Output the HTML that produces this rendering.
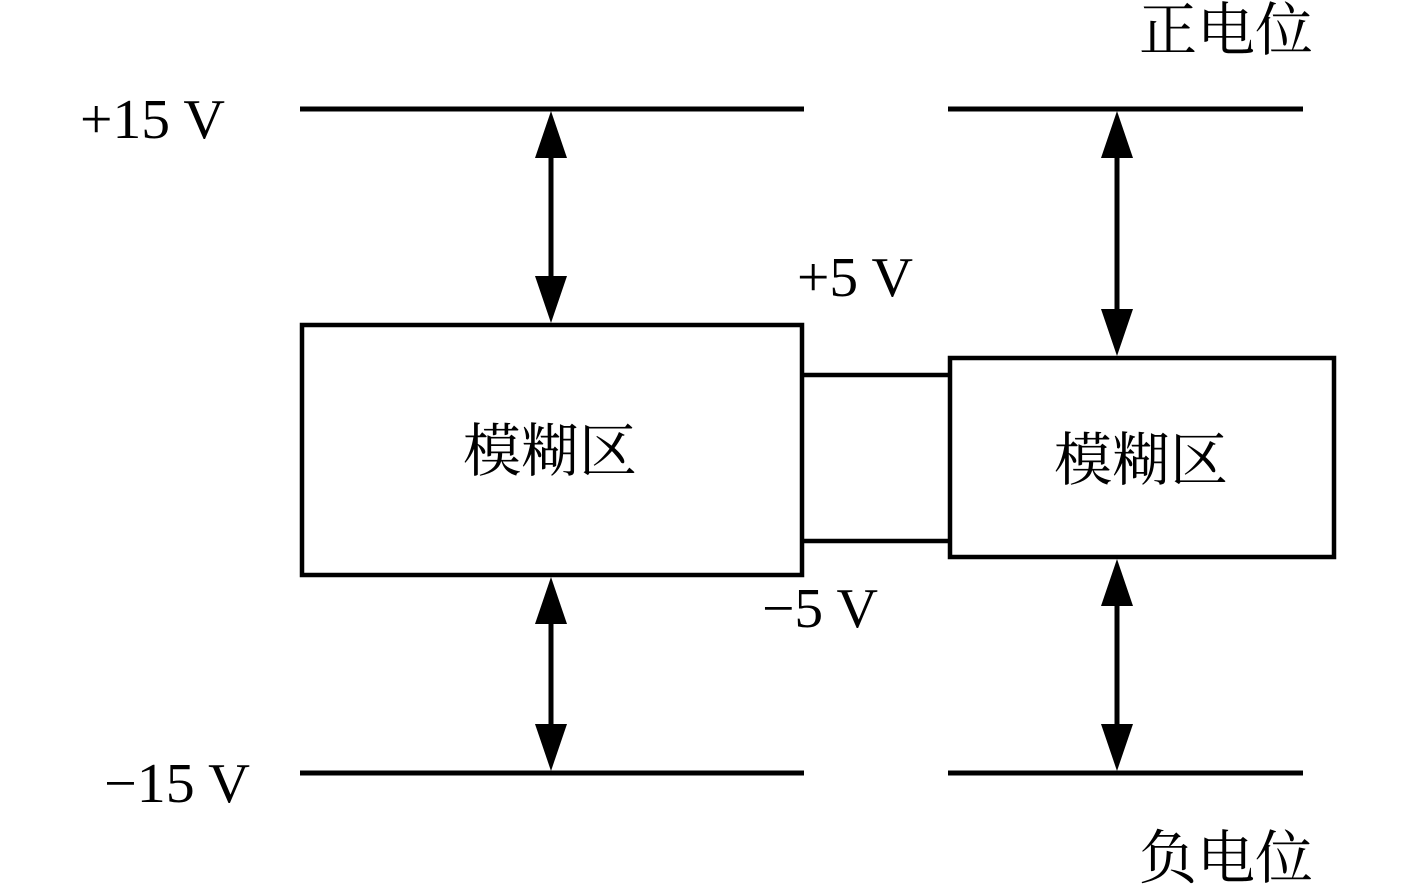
<!DOCTYPE html>
<html><head><meta charset="utf-8"><style>
html,body{margin:0;padding:0;background:#fff;}
svg{display:block;}
.t{font-family:"Liberation Serif",serif;font-size:56px;fill:#000;}
.c{font-family:"Liberation Serif","Noto Serif CJK SC","Noto Sans CJK SC",serif;font-size:58px;fill:#000;}
</style></head><body>
<svg width="1417" height="889" viewBox="0 0 1417 889" xmlns="http://www.w3.org/2000/svg">
<g stroke="#000" stroke-width="5" fill="none">
<line x1="300" y1="109" x2="804" y2="109"/>
<line x1="948" y1="109" x2="1303" y2="109"/>
<line x1="300" y1="773" x2="804" y2="773"/>
<line x1="948" y1="773" x2="1303" y2="773"/>
<rect x="302" y="325" width="500" height="250" stroke-width="4.5"/>
<rect x="950" y="358" width="384" height="199" stroke-width="4.5"/>
<line x1="802" y1="375" x2="950" y2="375" stroke-width="4.5"/>
<line x1="802" y1="541" x2="950" y2="541" stroke-width="4.5"/>
<line x1="551" y1="150" x2="551" y2="285"/>
<line x1="551" y1="615" x2="551" y2="735"/>
<line x1="1117" y1="150" x2="1117" y2="318"/>
<line x1="1117" y1="597" x2="1117" y2="735"/>
</g>
<g fill="#000">
<polygon points="551,111 535,158 567,158"/>
<polygon points="551,323 535,276 567,276"/>
<polygon points="551,577 535,624 567,624"/>
<polygon points="551,771 535,724 567,724"/>
<polygon points="1117,111 1101,158 1133,158"/>
<polygon points="1117,356 1101,309 1133,309"/>
<polygon points="1117,559 1101,606 1133,606"/>
<polygon points="1117,771 1101,724 1133,724"/>
</g>
<text class="t" x="80" y="138" textLength="145" lengthAdjust="spacingAndGlyphs">+15 V</text>
<text class="t" x="104" y="802" textLength="146" lengthAdjust="spacingAndGlyphs">−15 V</text>
<text class="t" x="797" y="296" textLength="116" lengthAdjust="spacingAndGlyphs">+5 V</text>
<text class="t" x="762" y="627" textLength="116" lengthAdjust="spacingAndGlyphs">−5 V</text>
<text class="c" x="1139" y="50">正电位</text>
<text class="c" x="1139" y="878">负电位</text>
<text class="c" x="550" y="471" text-anchor="middle">模糊区</text>
<text class="c" x="1141" y="480" text-anchor="middle">模糊区</text>
</svg>
</body></html>
